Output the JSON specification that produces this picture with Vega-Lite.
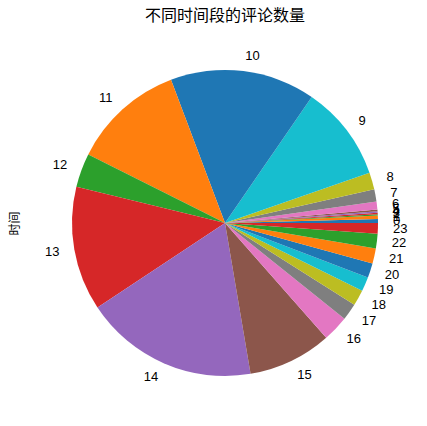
{
  "$schema": "https://vega.github.io/schema/vega-lite/v6.json",
  "autosize": "none",
  "padding": {"left": 45, "top": 43, "right": 22, "bottom": 23},
  "width": 360,
  "height": 360,
  "view": {"stroke": null},
  "title": {
    "text": "不同时间段的评论数量",
    "font": "Noto Sans CJK SC",
    "fontSize": 16,
    "fontWeight": "normal",
    "color": "black",
    "offset": 19
  },
  "data": {
    "values": [
      {"hour": 0, "count": 15},
      {"hour": 1, "count": 13},
      {"hour": 2, "count": 5},
      {"hour": 3, "count": 5},
      {"hour": 4, "count": 6},
      {"hour": 5, "count": 7},
      {"hour": 6, "count": 30},
      {"hour": 7, "count": 46},
      {"hour": 8, "count": 65},
      {"hour": 9, "count": 363},
      {"hour": 10, "count": 552},
      {"hour": 11, "count": 427},
      {"hour": 12, "count": 129},
      {"hour": 13, "count": 473},
      {"hour": 14, "count": 661},
      {"hour": 15, "count": 318},
      {"hour": 16, "count": 99},
      {"hour": 17, "count": 64},
      {"hour": 18, "count": 60},
      {"hour": 19, "count": 54},
      {"hour": 20, "count": 55},
      {"hour": 21, "count": 58},
      {"hour": 22, "count": 56},
      {"hour": 23, "count": 40}
    ]
  },
  "layer": [
    {
      "mark": {"type": "point", "opacity": 0},
      "encoding": {
        "y": {
          "field": "count",
          "type": "quantitative",
          "axis": {
            "title": "时间",
            "titleFont": "Noto Sans CJK SC",
            "titleFontSize": 12,
            "titleFontWeight": "normal",
            "titleColor": "black",
            "titlePadding": 24,
            "labels": false,
            "ticks": false,
            "domain": false,
            "grid": false
          }
        }
      }
    },
    {
      "mark": {"type": "arc", "radius": 153, "stroke": null},
      "encoding": {
        "theta": {
          "field": "count",
          "type": "quantitative",
          "stack": true,
          "scale": {"range": [1.5708, -4.7124]}
        },
        "order": {"field": "hour", "type": "quantitative"},
        "color": {
          "field": "hour",
          "type": "ordinal",
          "legend": null,
          "scale": {
            "domain": [0, 1, 2, 3, 4, 5, 6, 7, 8, 9, 10, 11, 12, 13, 14, 15, 16, 17, 18, 19, 20, 21, 22, 23],
            "range": ["#1f77b4", "#ff7f0e", "#2ca02c", "#d62728", "#9467bd", "#8c564b", "#e377c2", "#7f7f7f", "#bcbd22", "#17becf",
                      "#1f77b4", "#ff7f0e", "#2ca02c", "#d62728", "#9467bd", "#8c564b", "#e377c2", "#7f7f7f", "#bcbd22", "#17becf",
                      "#1f77b4", "#ff7f0e", "#2ca02c", "#d62728"]
          }
        }
      }
    },
    {
      "mark": {
        "type": "text",
        "radius": 168,
        "font": "Liberation Sans",
        "fontSize": 13,
        "color": "black",
        "baseline": "middle",
        "align": {"expr": "datum.hour >= 11 && datum.hour <= 14 ? 'right' : 'left'"}
      },
      "encoding": {
        "theta": {"field": "count", "type": "quantitative", "stack": true},
        "order": {"field": "hour", "type": "quantitative"},
        "text": {"field": "hour", "type": "ordinal"}
      }
    }
  ]
}
